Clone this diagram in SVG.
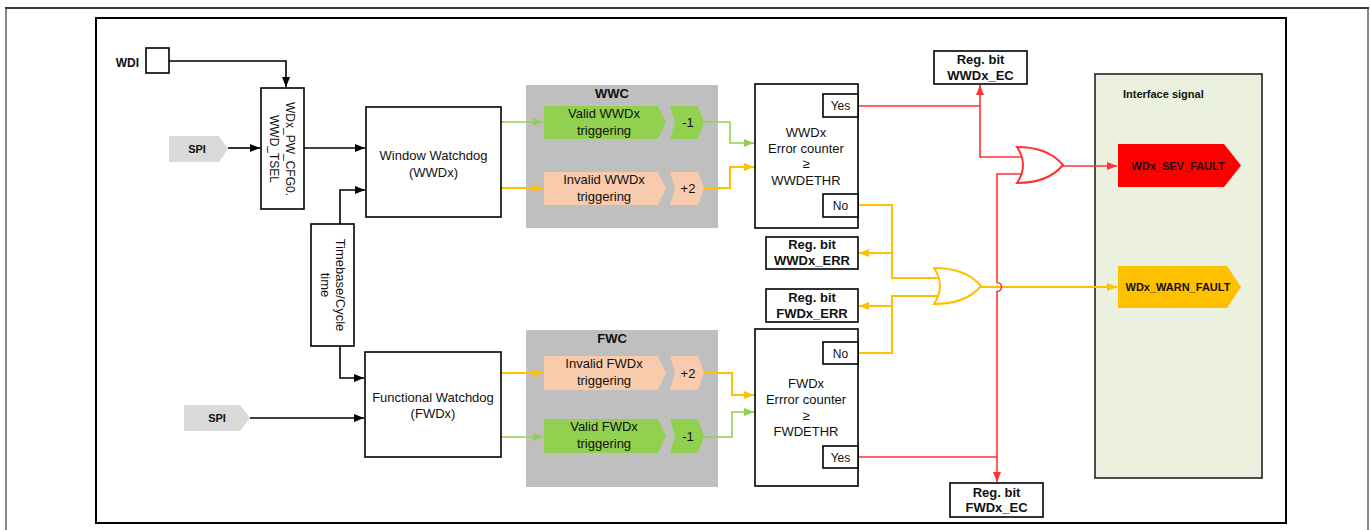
<svg xmlns="http://www.w3.org/2000/svg" width="1371" height="530" viewBox="0 0 1371 530">
<style>
text{font-family:"Liberation Sans",Arial,sans-serif;fill:#111}
.t13{font-size:13px}
.b{font-weight:bold}
.box{fill:#fff;stroke:#000;stroke-width:1.6}
.k{fill:none;stroke:#000;stroke-width:1.6}
.g{fill:none;stroke:#92d050;stroke-width:1.6}
.o{fill:none;stroke:#ffc000;stroke-width:2}
.r{fill:none;stroke:#ff3333;stroke-width:1.6}
.mid{text-anchor:middle}
</style>
<defs>
<marker id="ak" markerUnits="userSpaceOnUse" markerWidth="12" markerHeight="10" refX="10" refY="4" orient="auto"><path d="M0,0 L10,4 L0,8 z" fill="#000"/></marker>
<marker id="ag" markerUnits="userSpaceOnUse" markerWidth="12" markerHeight="10" refX="10" refY="4" orient="auto"><path d="M0,0 L10,4 L0,8 z" fill="#92d050"/></marker>
<marker id="ao" markerUnits="userSpaceOnUse" markerWidth="12" markerHeight="10" refX="10" refY="4" orient="auto"><path d="M0,0 L10,4 L0,8 z" fill="#ffc000"/></marker>
<marker id="ar" markerUnits="userSpaceOnUse" markerWidth="12" markerHeight="10" refX="10" refY="4" orient="auto"><path d="M0,0 L10,4 L0,8 z" fill="#ff3333"/></marker>
</defs>
<rect width="1371" height="530" fill="#fff"/>
<!-- outer frame -->
<path d="M6,530 V8 H1368 V530" fill="none" stroke="#888" stroke-width="2"/>
<line x1="5" y1="8" x2="1369" y2="8" stroke="#222" stroke-width="1.5"/>
<rect x="96" y="18" width="1190" height="505" fill="none" stroke="#000" stroke-width="2"/>

<g id="wwc-group"><rect x="526" y="85" width="192" height="143" fill="#bfbfbf"/><text class="t13 b mid" x="612" y="98">WWC</text></g>
<g id="fwc-group"><rect x="526" y="330" width="192" height="157" fill="#bfbfbf"/><text class="t13 b mid" x="612" y="343">FWC</text></g>
<g id="interface"><rect x="1095" y="74" width="167" height="404" fill="#ebf1de" stroke="#222" stroke-width="1.6"/><text x="1123" y="98" font-size="11" class="b">Interface signal</text></g>

<g id="connectors">
<path class="k" d="M169,61 H286 V87" marker-end="url(#ak)"/>
<path class="k" d="M228,148 H260" marker-end="url(#ak)"/>
<path class="k" d="M304,148 H365" marker-end="url(#ak)"/>
<path class="k" d="M340,225 V190 H365" marker-end="url(#ak)"/>
<path class="k" d="M340,346 V378 H364" marker-end="url(#ak)"/>
<path class="k" d="M250,418 H364" marker-end="url(#ak)"/>
<path class="g" d="M501,122 H543" marker-end="url(#ag)"/>
<path class="g" d="M704,122 H730 V143 H754" marker-end="url(#ag)"/>
<path class="g" d="M501,437 H543" marker-end="url(#ag)"/>
<path class="g" d="M704,437 H732 V412 H754" marker-end="url(#ag)"/>
<path class="o" d="M501,188 H543" marker-end="url(#ao)"/>
<path class="o" d="M704,188 H730 V167 H754" marker-end="url(#ao)"/>
<path class="o" d="M501,373 H543" marker-end="url(#ao)"/>
<path class="o" d="M704,373 H732 V395 H754" marker-end="url(#ao)"/>
<path class="o" d="M858,205 H892 V278 H941"/>
<path class="o" d="M892,253 H859" marker-end="url(#ao)"/>
<path class="o" d="M858,353 H892 V296 H941"/>
<path class="o" d="M892,306 H859" marker-end="url(#ao)"/>
<path class="o" d="M981,287 H1117" marker-end="url(#ao)"/>
<path class="r" d="M858,106 H980 V157 H1023"/>
<path class="r" d="M980,106 V85" marker-end="url(#ar)"/>
<path class="r" d="M1063,166 H1117" marker-end="url(#ar)"/>
<path class="r" d="M1023,174 H997 V282.5 a4.5,4.5 0 0 1 0,9 V457 H858"/>
<path class="r" d="M997,457 V482" marker-end="url(#ar)"/>
</g>

<g id="wdi"><text x="139" y="67" font-size="12" class="b" text-anchor="end">WDI</text><rect x="146" y="48" width="23" height="25" class="box"/></g>
<g id="spi1"><polygon points="169,136 219,136 228,149 219,162 169,162" fill="#d9d9d9"/><text x="197" y="153" font-size="11" class="b mid">SPI</text></g>
<g id="spi2"><polygon points="184,405 240,405 250,418 240,431 184,431" fill="#d9d9d9"/><text x="217" y="422" font-size="11" class="b mid">SPI</text></g>
<g id="cfg"><rect x="261" y="88" width="43" height="121" class="box"/>
<text font-size="12" class="mid" transform="translate(282,149) rotate(90)"><tspan x="0" y="-3.5">WDx_PW_CFG0.</tspan><tspan x="0" y="12">WWD_TSEL</tspan></text></g>
<g id="timebase"><rect x="311" y="224" width="43" height="122" class="box"/>
<text class="t13 mid" transform="translate(332.5,285) rotate(90)"><tspan x="0" y="-3">Timebase/Cycle</tspan><tspan x="0" y="12">time</tspan></text></g>
<g id="wwd"><rect x="366" y="107" width="135" height="110" class="box"/><text class="t13 mid" x="433.5" y="160">Window Watchdog</text><text class="t13 mid" x="433.5" y="177">(WWDx)</text></g>
<g id="fwd"><rect x="365" y="352" width="136" height="105" class="box"/><text class="t13 mid" x="433" y="402">Functional Watchdog</text><text class="t13 mid" x="433" y="418">(FWDx)</text></g>

<g id="valid-wwd"><polygon points="544,106 658,106 666,122.5 658,139 544,139" fill="#92d050"/><text class="t13 mid" x="604" y="117.5">Valid WWDx</text><text class="t13 mid" x="604" y="134.5">triggering</text></g>
<g id="minus1-w"><polygon points="670,106 698,106 704,122.5 698,139 670,139 675,122.5" fill="#92d050"/><text class="t13 mid" x="688" y="127">-1</text></g>
<g id="invalid-wwd"><polygon points="544,172 658,172 666,188.5 658,205 544,205" fill="#f8cbad"/><text class="t13 mid" x="604" y="183.5">Invalid WWDx</text><text class="t13 mid" x="604" y="200.5">triggering</text></g>
<g id="plus2-w"><polygon points="670,172 698,172 704,188.5 698,205 670,205 675,188.5" fill="#f8cbad"/><text class="t13 mid" x="688" y="193">+2</text></g>
<g id="invalid-fwd"><polygon points="544,356 658,356 666,373 658,390 544,390" fill="#f8cbad"/><text class="t13 mid" x="604" y="368">Invalid FWDx</text><text class="t13 mid" x="604" y="385">triggering</text></g>
<g id="plus2-f"><polygon points="670,356 698,356 704,373 698,390 670,390 675,373" fill="#f8cbad"/><text class="t13 mid" x="688" y="377.5">+2</text></g>
<g id="valid-fwd"><polygon points="544,419 658,419 666,436 658,453 544,453" fill="#92d050"/><text class="t13 mid" x="604" y="431">Valid FWDx</text><text class="t13 mid" x="604" y="448">triggering</text></g>
<g id="minus1-f"><polygon points="670,419 698,419 704,436 698,453 670,453 675,436" fill="#92d050"/><text class="t13 mid" x="688" y="440.5">-1</text></g>

<g id="wwd-counter"><rect x="755" y="84" width="103" height="144" class="box"/>
<text class="t13 mid" x="806" y="137">WWDx</text><text class="t13 mid" x="806" y="153">Error counter</text><text class="t13 mid" x="806" y="168">≥</text><text class="t13 mid" x="806" y="185">WWDETHR</text>
<rect x="823" y="94" width="35" height="23" class="box"/><text x="840.5" y="110" font-size="12" class="mid">Yes</text>
<rect x="823" y="194" width="35" height="23" class="box"/><text x="840.5" y="210" font-size="12" class="mid">No</text></g>
<g id="fwd-counter"><rect x="755" y="329" width="103" height="157" class="box"/>
<text class="t13 mid" x="806" y="388">FWDx</text><text class="t13 mid" x="806" y="404">Errror counter</text><text class="t13 mid" x="806" y="420">≥</text><text class="t13 mid" x="806" y="436">FWDETHR</text>
<rect x="823" y="342" width="35" height="22" class="box"/><text x="840.5" y="357.5" font-size="12" class="mid">No</text>
<rect x="823" y="446" width="35" height="22" class="box"/><text x="840.5" y="461.5" font-size="12" class="mid">Yes</text></g>

<g id="reg-wwd-ec"><rect x="934" y="51" width="93" height="33" class="box"/><text class="t13 b mid" x="980.5" y="64">Reg. bit</text><text class="t13 b mid" x="980.5" y="80">WWDx_EC</text></g>
<g id="reg-wwd-err"><rect x="766" y="237" width="92" height="32" class="box"/><text class="t13 b mid" x="812" y="249">Reg. bit</text><text class="t13 b mid" x="812" y="265">WWDx_ERR</text></g>
<g id="reg-fwd-err"><rect x="766" y="289" width="92" height="33" class="box"/><text class="t13 b mid" x="812" y="302">Reg. bit</text><text class="t13 b mid" x="812" y="318">FWDx_ERR</text></g>
<g id="reg-fwd-ec"><rect x="950" y="483" width="93" height="34" class="box"/><text class="t13 b mid" x="996.5" y="497">Reg. bit</text><text class="t13 b mid" x="996.5" y="512">FWDx_EC</text></g>

<g id="or-red"><path d="M1017,147 Q1029,165 1017,183 Q1048,183 1063,165 Q1048,147 1017,147 Z" fill="#fff" stroke="#ff3333" stroke-width="2"/></g>
<g id="or-orange"><path d="M934,268 Q946,286 934,304 Q966,304 981,286 Q966,268 934,268 Z" fill="#fff" stroke="#ffc000" stroke-width="2"/></g>

<g id="sev-fault"><polygon points="1118,144 1224,144 1241,165.5 1224,187 1118,187" fill="#ff0000"/><text x="1178" y="169.5" font-size="11" class="b mid">WDx_SEV_FAULT</text></g>
<g id="warn-fault"><polygon points="1118,266 1227,266 1241,287 1227,308 1118,308" fill="#ffc000"/><text x="1178" y="291" font-size="11" class="b mid">WDx_WARN_FAULT</text></g>
</svg>
